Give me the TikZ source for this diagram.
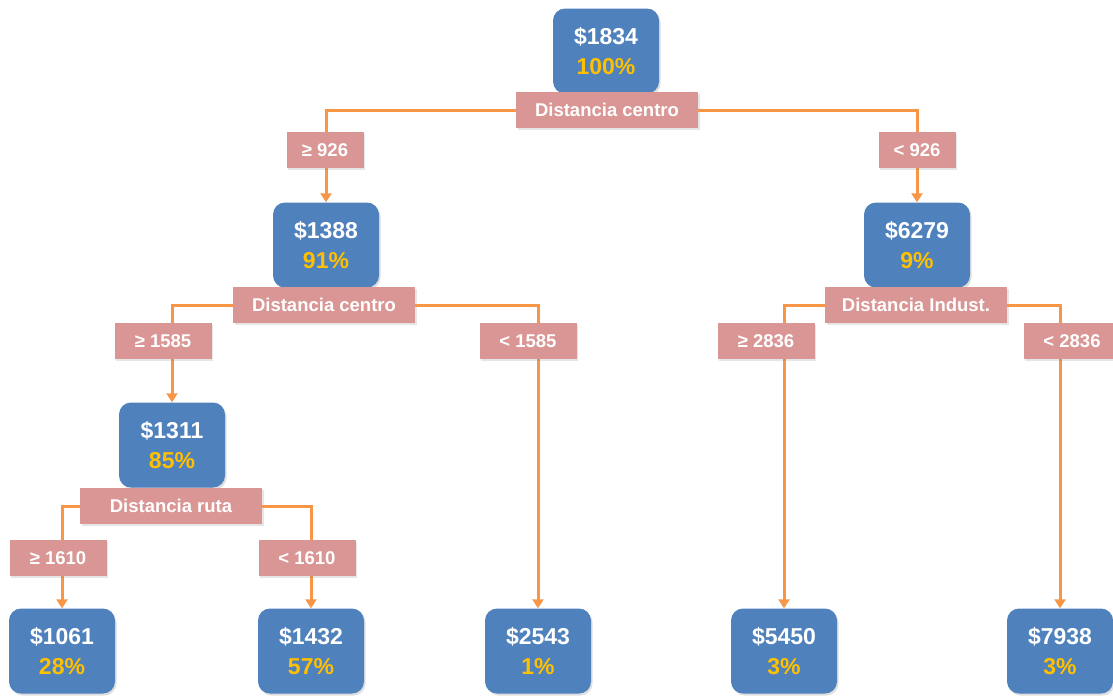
\documentclass[tikz,border=0pt]{standalone}
\usepackage{fontspec}
\setmainfont{Liberation Sans}
\usepackage{tikz}
\usetikzlibrary{arrows.meta,shadows}

\definecolor{boxblue}{HTML}{4F81BD}
\definecolor{pctgold}{HTML}{FFC000}
\definecolor{splitpink}{HTML}{D99694}
\definecolor{lineorange}{HTML}{F79646}

\begin{document}
\begin{tikzpicture}[
	x=1pt, y=-1pt,
	val/.style={rounded corners=12pt, fill=boxblue, text=white, align=center,
		minimum width=106pt, minimum height=85pt,
		font=\bfseries\fontsize{23}{30}\selectfont,
		drop shadow={shadow xshift=1.5pt, shadow yshift=-2pt, opacity=0.25}},
	split/.style={fill=splitpink, text=white, minimum width=182pt, minimum height=36pt,
		font=\bfseries\fontsize{18.5}{20}\selectfont,
		drop shadow={shadow xshift=1.5pt, shadow yshift=-2pt, opacity=0.2}},
	cond/.style={fill=splitpink, text=white, minimum width=97pt, minimum height=36pt,
		font=\bfseries\fontsize{18.5}{20}\selectfont,
		drop shadow={shadow xshift=1.5pt, shadow yshift=-2pt, opacity=0.2}},
	br/.style={draw=lineorange, line width=3pt, -{Triangle[width=11pt,length=9pt]}}
]
	\useasboundingbox (0,0) rectangle (1113,697);

	\node[val] (N0) at (606, 51) {\$1834\\\textcolor{pctgold}{100\%}};
	\node[val] (N1) at (326, 245) {\$1388\\\textcolor{pctgold}{91\%}};
	\node[val] (N2) at (917, 245) {\$6279\\\textcolor{pctgold}{9\%}};
	\node[val] (N3) at (172, 445) {\$1311\\\textcolor{pctgold}{85\%}};
	\node[val] (L1) at (62, 651) {\$1061\\\textcolor{pctgold}{28\%}};
	\node[val] (L2) at (311, 651) {\$1432\\\textcolor{pctgold}{57\%}};
	\node[val] (L3) at (538, 651) {\$2543\\\textcolor{pctgold}{1\%}};
	\node[val] (L4) at (784, 651) {\$5450\\\textcolor{pctgold}{3\%}};
	\node[val] (L5) at (1060, 651) {\$7938\\\textcolor{pctgold}{3\%}};

	\node[split] (D0) at (607, 110) {Distancia centro};
	\node[split] (D1) at (324, 305) {Distancia centro};
	\node[split] (D2) at (916, 305) {Distancia Indust.};
	\node[split] (D3) at (171, 506) {Distancia ruta};

	\draw[br] (D0.west) -| (N1.north);
	\draw[br] (D0.east) -| (N2.north);
	\draw[br] (D1.west) -| (N3.north);
	\draw[br] (D1.east) -| (L3.north);
	\draw[br] (D2.west) -| (L4.north);
	\draw[br] (D2.east) -| (L5.north);
	\draw[br] (D3.west) -| (L1.north);
	\draw[br] (D3.east) -| (L2.north);

	\node[cond, minimum width=77pt] (C1) at (325, 150) {≥ 926};
	\node[cond, minimum width=77pt] (C2) at (917, 150) {< 926};
	\node[cond] (C3) at (163, 341) {≥ 1585};
	\node[cond] (C4) at (528, 341) {< 1585};
	\node[cond] (C5) at (766, 341) {≥ 2836};
	\node[cond] (C6) at (1072, 341) {< 2836};
	\node[cond] (C7) at (58, 558) {≥ 1610};
	\node[cond] (C8) at (307, 558) {< 1610};
\end{tikzpicture}
\end{document}
